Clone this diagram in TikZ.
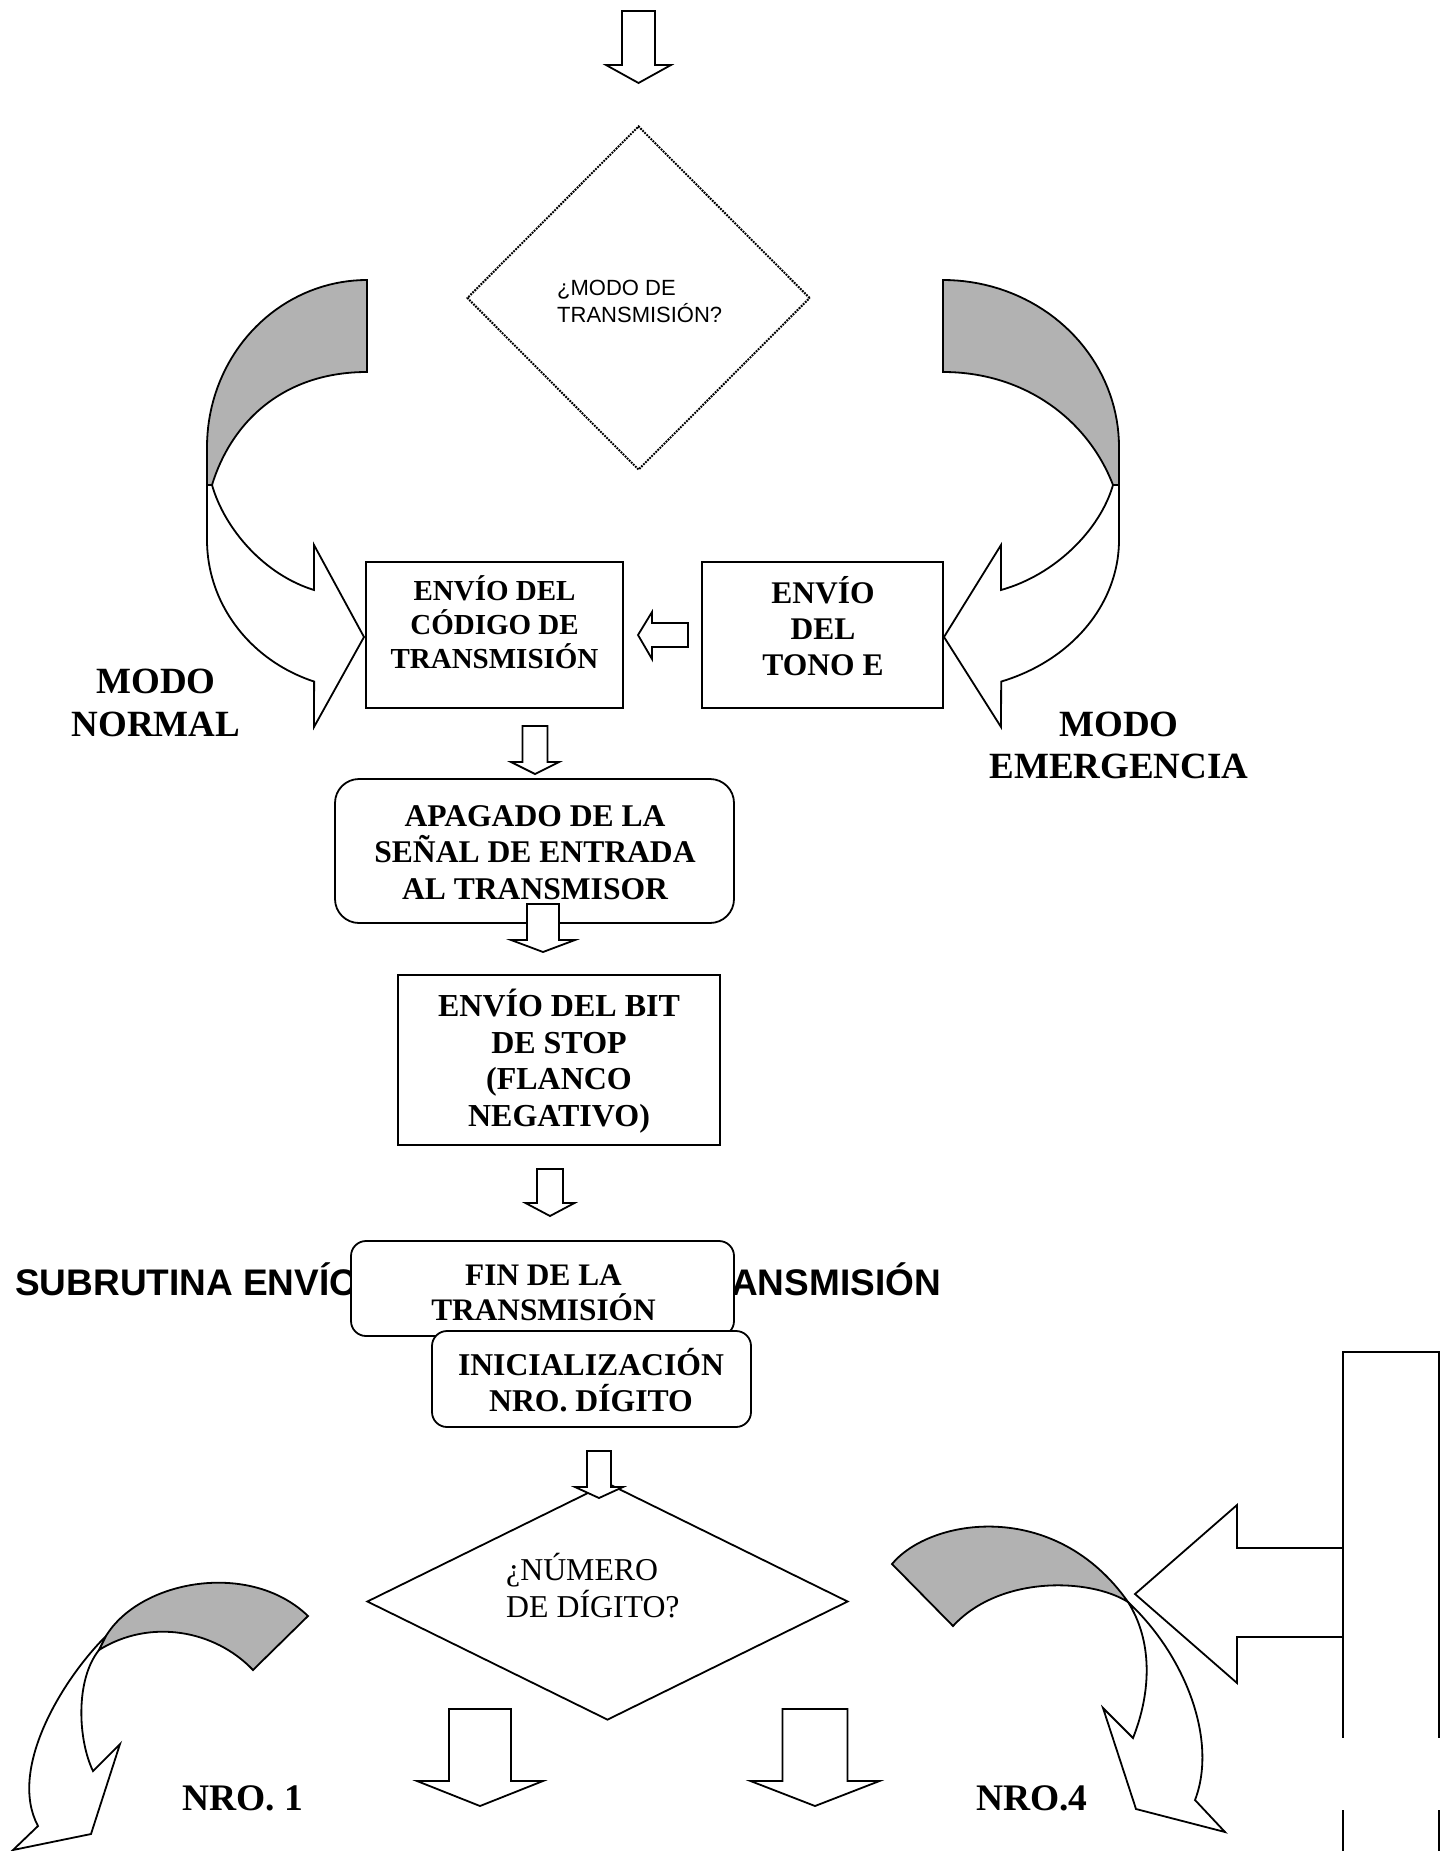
\documentclass[tikz,border=0pt]{standalone}
\usepackage{fontspec}
\setmainfont{Liberation Serif}
\newfontfamily\arialfam{Liberation Sans}
\usetikzlibrary{shapes.geometric}
\definecolor{foldgray}{RGB}{178,178,178}
% centred / left-aligned stacks of lines whose base is the first baseline
\newcommand\clines[1]{\vtop{\halign{\hfil##\hfil\cr#1\crcr}}}
\newcommand\llines[1]{\vtop{\halign{##\hfil\cr#1\crcr}}}
\newcommand\fsz[2]{\fontsize{#1pt}{#2pt}\selectfont}
% block arrow pointing down: centre x, shaft half width, top, head base, head half width, tip
\newcommand\blockdown[6]{%
  \draw[block] ({#1-#2},#3) -- ({#1+#2},#3) -- ({#1+#2},#4) -- ({#1+#5},#4)
    -- (#1,#6) -- ({#1-#5},#4) -- ({#1-#2},#4) -- cycle;}

\begin{document}
\begin{tikzpicture}[x=1pt,y=-1pt,
  outline/.style={draw=black, line width=1.8pt, line join=miter},
  block/.style={outline, fill=white},
  fold/.style={outline, fill=foldgray},
  box/.style={block, shape=rectangle, inner sep=0pt},
  rbox/.style={box, rounded corners=#1},
  txt/.style={inner sep=0pt, anchor=base, font=\bfseries},
  ltxt/.style={inner sep=0pt, anchor=base west}]
\useasboundingbox (0,0) rectangle (1452,1851);
\clip (0,0) rectangle (1452,1851);

% ---- title of the subroutine (its middle lies under the end box)
\node[ltxt] (subleft) at (15,1295)
  {\arialfam\bfseries\fsz{37}{42}SUBRUTINA ENVÍO};
\node[inner sep=0pt, anchor=base east] (subright) at (941,1295)
  {\arialfam\bfseries\fsz{37}{42}TRANSMISIÓN};

% ---- entry arrow and mode decision
\blockdown{638.5}{16.5}{11}{65}{32.5}{83}
\node[draw, shape=diamond, minimum width=343pt, minimum height=344pt,
      inner sep=0pt, dash pattern=on 1.8pt off 1.1pt, line width=2pt] (modo) at (638.5,298) {};
\node[ltxt] (modotxt) at (557,296)
  {\arialfam\fsz{22}{27}\llines{¿MODO DE\cr TRANSMISIÓN?}};

% ---- curved arrow towards the normal mode
\draw[block] (207,485) -- (207,540)
  -- plot[domain=180:109.3, samples=40] ({367+160*cos(\x)},{540+150*sin(\x)})
  -- (314,727) -- (364,637) -- (314,545) -- (314,590)
  .. controls (265,575) and (225,530) .. (212,485)
  -- cycle;
\draw[fold] plot[domain=270:180, samples=40] ({367+160*cos(\x)},{447+167*sin(\x)})
  -- (207,485) -- (212,485)
  .. controls (232,420) and (285,372) .. (367,372) -- cycle;

% ---- curved arrow towards the emergency mode
\draw[block] (1119,485) -- (1119,540)
  -- plot[domain=0:70.7, samples=40] ({943+176*cos(\x)},{540+150*sin(\x)})
  -- (1001,727) -- (944,637) -- (1001,545) -- (1001,590)
  .. controls (1055,575) and (1100,530) .. (1113,485)
  -- cycle;
\draw[fold] plot[domain=270:360, samples=40] ({943+176*cos(\x)},{447+167*sin(\x)})
  -- (1119,485) -- (1113,485)
  .. controls (1088,420) and (1025,372) .. (943,372) -- cycle;

\node[txt] (normal) at (156,693.5) {\fsz{37}{42.5}\clines{MODO\cr NORMAL}};
\node[txt] (emerg) at (1119,736) {\fsz{37}{42.5}\clines{MODO\cr EMERGENCIA}};

% ---- process boxes
\node[box, minimum width=257pt, minimum height=146pt] (codigo) at (494.5,635) {};
\node[box, minimum width=241pt, minimum height=146pt] (tono) at (822.5,635) {};
\node[rbox=24pt, minimum width=399pt, minimum height=144pt] (apagado) at (534.5,851) {};
\node[box, minimum width=322pt, minimum height=170pt] (stop) at (559,1060) {};
\node[rbox=15pt, minimum width=383pt, minimum height=95pt] (fin) at (542.5,1288.5) {};
\node[rbox=15pt, minimum width=319pt, minimum height=96pt] (inic) at (591.5,1379) {};

\node[txt] (codigotxt) at (494.5,600) {\fsz{29}{34.3}\clines{ENVÍO DEL\cr CÓDIGO DE\cr TRANSMISIÓN}};
\node[txt] (tonotxt) at (823,603) {\fsz{31.5}{36}\clines{ENVÍO\cr DEL\cr TONO E}};
\node[txt] (apagadotxt) at (535,826) {\fsz{31.6}{36.6}\clines{APAGADO DE LA\cr SEÑAL DE ENTRADA\cr AL TRANSMISOR}};
\node[txt] (stoptxt) at (559,1016.5) {\fsz{32}{36.6}\clines{ENVÍO DEL BIT\cr DE STOP\cr (FLANCO\cr NEGATIVO)}};
\node[txt] (fintxt) at (543.5,1285.4) {\fsz{31.3}{35.4}\clines{FIN DE LA\cr TRANSMISIÓN}};
\node[txt] (inictxt) at (591,1375) {\fsz{31.7}{36.8}\clines{INICIALIZACIÓN\cr NRO. DÍGITO}};

% ---- small arrow from the tone box to the code box
\draw[block] (688,623) -- (652,623) -- (652,612) -- (638,635) -- (652,659) -- (652,647) -- (688,647) -- cycle;

% ---- digit decision
\node[draw, shape=diamond, minimum width=481pt, minimum height=237pt,
      inner sep=0pt, line width=1.8pt] (digito) at (607.5,1601.5) {};
\node[ltxt] (digitotxt) at (506,1580.5) {\fsz{31.8}{36.5}\llines{¿NÚMERO\cr DE DÍGITO?}};

% ---- down arrows between the steps
\blockdown{535}{12.5}{726}{762}{24}{774}
\blockdown{543}{16}{904}{940}{32}{952}
\blockdown{550}{13}{1169}{1203}{24.5}{1216}
\blockdown{599}{12}{1451}{1487}{24}{1498}
\blockdown{480}{31}{1709}{1781}{63}{1806}
\blockdown{815}{32.5}{1709}{1781}{64.5}{1806}

% ---- curved arrow for digit 1
\draw[block] (106,1636) .. controls (61,1681) and (8,1770) .. (38,1826)
  -- (13,1850) -- (91,1834) -- (120,1744) -- (93,1771)
  .. controls (78,1740) and (75,1680) .. (99,1650) -- cycle;
\draw[fold] (106,1636) .. controls (140,1580) and (250,1560) .. (308,1616)
  -- (253,1670) .. controls (215,1630) and (150,1618) .. (99,1650) -- cycle;

% ---- curved arrow for digit 4
\draw[block] (1128,1602) .. controls (1185,1655) and (1218,1740) .. (1195,1800)
  -- (1225,1832) -- (1136,1809) -- (1103,1708) -- (1133,1738)
  .. controls (1152,1690) and (1152,1640) .. (1128,1602) -- cycle;
\draw[fold] (892,1564) .. controls (930,1518) and (1055,1498) .. (1128,1602)
  .. controls (1090,1578) and (1000,1575) .. (953,1626) -- cycle;

\node[txt] (nro1) at (243,1810) {\fsz{37.5}{40}NRO. 1};
\node[txt] (nro4) at (1032,1810) {\fsz{37.5}{40}NRO.4};

% ---- side panel with its arrow
\node[outline, shape=rectangle, inner sep=0pt, minimum width=96pt, minimum height=508pt] (panel) at (1391,1606) {};
\fill[white] (1336,1738) rectangle (1446,1810);
\draw[outline] (1343,1548) -- (1237,1548) -- (1237,1505) -- (1135,1594)
  -- (1237,1683) -- (1237,1637) -- (1343,1637);
\end{tikzpicture}
\end{document}
